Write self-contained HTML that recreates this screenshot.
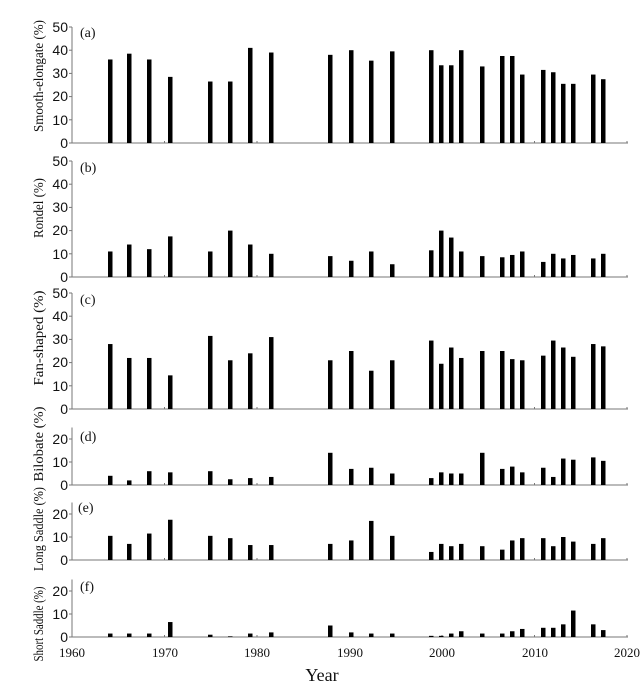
<!DOCTYPE html>
<html><head><meta charset="utf-8"><style>
body{margin:0;background:#fff}
svg{display:block}
.t{font-family:"Liberation Sans",sans-serif;font-size:14px;fill:#111}
.s{font-family:"Liberation Serif",serif;fill:#111}
</style></head><body>
<svg id="c" width="640" height="700" viewBox="0 0 640 700">
<g class="t" text-anchor="end">
<text x="68" y="32">50</text><text x="68" y="55">40</text><text x="68" y="78">30</text><text x="68" y="101">20</text><text x="68" y="125">10</text><text x="68" y="148">0</text>
<text x="68" y="166">50</text><text x="68" y="189">40</text><text x="68" y="212">30</text><text x="68" y="235">20</text><text x="68" y="259">10</text><text x="68" y="282">0</text>
<text x="68" y="298">50</text><text x="68" y="321">40</text><text x="68" y="344">30</text><text x="68" y="367">20</text><text x="68" y="391">10</text><text x="68" y="414">0</text>
<text x="68" y="444">20</text><text x="68" y="467">10</text><text x="68" y="490">0</text>
<text x="68" y="519">20</text><text x="68" y="542">10</text><text x="68" y="565">0</text>
<text x="68" y="596">20</text><text x="68" y="619">10</text><text x="68" y="642">0</text>
</g>
<g class="s" font-size="14">
<text x="80" y="37">(a)</text><text x="80" y="172">(b)</text><text x="80" y="304">(c)</text>
<text x="80" y="441">(d)</text><text x="78" y="512">(e)</text><text x="80" y="591">(f)</text>
</g>
<g class="s" font-size="13" text-anchor="middle">
<text x="72" y="657">1960</text><text x="165" y="657">1970</text><text x="257" y="657">1980</text><text x="350" y="657">1990</text><text x="442" y="657">2000</text><text x="535" y="657">2010</text><text x="627" y="657">2020</text>
</g>
<text class="s" font-size="18" x="322" y="681" text-anchor="middle">Year</text>
<g class="s" font-size="14" text-anchor="middle">
<text transform="translate(43,76) rotate(-90)" textLength="112" lengthAdjust="spacingAndGlyphs">Smooth-elongate (%)</text>
<text transform="translate(43,208) rotate(-90)" textLength="60" lengthAdjust="spacingAndGlyphs">Rondel (%)</text>
<text transform="translate(43,338) rotate(-90)" textLength="95" lengthAdjust="spacingAndGlyphs">Fan-shaped (%)</text>
<text transform="translate(43,444) rotate(-90)" textLength="75" lengthAdjust="spacingAndGlyphs">Bilobate (%)</text>
<text transform="translate(43,529) rotate(-90)" textLength="84" lengthAdjust="spacingAndGlyphs">Long Saddle (%)</text>
<text transform="translate(43,624) rotate(-90)" textLength="75" lengthAdjust="spacingAndGlyphs">Short Saddle (%)</text>
</g>
<g id="g"></g>
</svg>
<script>
var xs=[110,129,149,170,210,230,250,271,330,351,371,392,431,441,451,461,482,502,512,522,543,553,563,573,593,603];
var P=[
{b:143,top:27,m:50,d:[36,38.5,36,28.5,26.5,26.5,41,39,38,40,35.5,39.5,40,33.5,33.5,40,33,37.5,37.5,29.5,31.5,30.5,25.5,25.5,29.5,27.5]},
{b:277,top:161,m:50,d:[11,14,12,17.5,11,20,14,10,9,7,11,5.5,11.5,20,17,11,9,8.5,9.5,11,6.5,10,8,9.5,8,10]},
{b:409,top:293,m:50,d:[28,22,22,14.5,31.5,21,24,31,21,25,16.5,21,29.5,19.5,26.5,22,25,25,21.5,21,23,29.5,26.5,22.5,28,27]},
{b:485,top:427.5,m:25,d:[4,2,6,5.5,6,2.5,3,3.5,14,7,7.5,5,3,5.5,5,5,14,7,8,5.5,7.5,3.5,11.5,11,12,10.5]},
{b:560,top:502.5,m:25,d:[10.5,7,11.5,17.5,10.5,9.5,6.5,6.5,7,8.5,17,10.5,3.5,7,6,7,6,4.5,8.5,9.5,9.5,6,10,8,7,9.5]},
{b:637,top:579.5,m:25,d:[1.5,1.5,1.5,6.5,1,0.3,1.5,2,5,2,1.5,1.5,0.5,0.5,1.5,2.5,1.5,1.5,2.5,3.5,4,4,5.5,11.5,5.5,3]}];
var s='';
P.forEach(function(p){
 var k=(p.b-p.top)/p.m;
 s+='<line x1="72" y1="'+p.top+'" x2="72" y2="'+p.b+'" stroke="#777" stroke-width="1"/>';
 s+='<line x1="72" y1="'+p.b+'" x2="628" y2="'+p.b+'" stroke="#777" stroke-width="1"/>';
 for(var v=0;v<=p.m;v+=10){var y=p.b-v*k;s+='<line x1="69" y1="'+y+'" x2="72" y2="'+y+'" stroke="#777"/>';}
 for(var yr=1960;yr<=2020;yr+=10){var x=72+(yr-1960)*9.25;s+='<line x1="'+x+'" y1="'+(p.b-2)+'" x2="'+x+'" y2="'+p.b+'" stroke="#777"/>';}
 p.d.forEach(function(v,i){var h=v*k;s+='<rect x="'+(xs[i]-2)+'" y="'+(p.b-h)+'" width="4.5" height="'+h+'" fill="#000"/>';});
});
document.getElementById('g').innerHTML=s;
</script>
</body></html>
